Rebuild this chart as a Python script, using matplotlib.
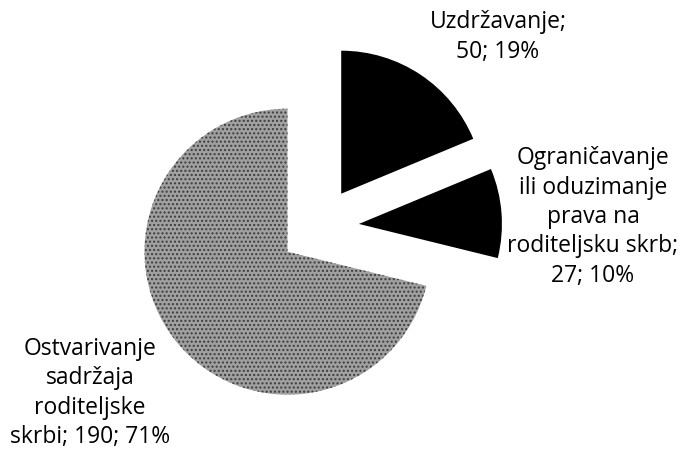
import matplotlib
matplotlib.use("Agg")
import matplotlib.pyplot as plt

# data
CATEGORIES = [
    "Uzdržavanje;",
    "Ograničavanje\nili oduzimanje\nprava na\nroditeljsku skrb;",
    "Ostvarivanje\nsadržaja\nroditeljske\nskrbi;",
]
VALUES = [50, 27, 190]

# style
COLORS = ["black", "black", "#a0a0a0"]
HATCHES = [None, None, "...."]
LABEL_POS = [(498, 37), (593, 217), (90, 393)]  # pixel centres of label blocks
W, H = 684, 452
CX, CY, R = 319, 228, 143   # pie centre / radius in pixels

plt.rcParams["font.family"] = ["Open Sans", "DejaVu Sans"]

fig = plt.figure(figsize=(W / 100, H / 100), dpi=100)
ax = fig.add_axes([0, 0, 1, 1])

wedges, _ = ax.pie(VALUES, colors=COLORS, startangle=90, counterclock=False,
                   explode=[0.28] * len(VALUES), radius=1.0,
                   wedgeprops=dict(linewidth=0))
for w, h in zip(wedges, HATCHES):
    if h:
        w.set_hatch(h)
        w.set_edgecolor("#3c3c3c")
        w.set_linewidth(0)

ax.set_xlim(-CX / R, (W - CX) / R)
ax.set_ylim(-(H - CY) / R, CY / R)
ax.set_aspect("auto")
ax.axis("off")

total = sum(VALUES)
for name, v, (px, py) in zip(CATEGORIES, VALUES, LABEL_POS):
    pct = round(100 * v / total)
    if name.endswith("skrbi;"):
        txt = f"{name} {v}; {pct}%"
    else:
        txt = f"{name}\n{v}; {pct}%"
    fig.text(px / W, 1 - py / H, txt, ha="center", va="center",
             multialignment="center", fontsize=16.5, linespacing=1.3)

fig.savefig("out.png", dpi=100)
